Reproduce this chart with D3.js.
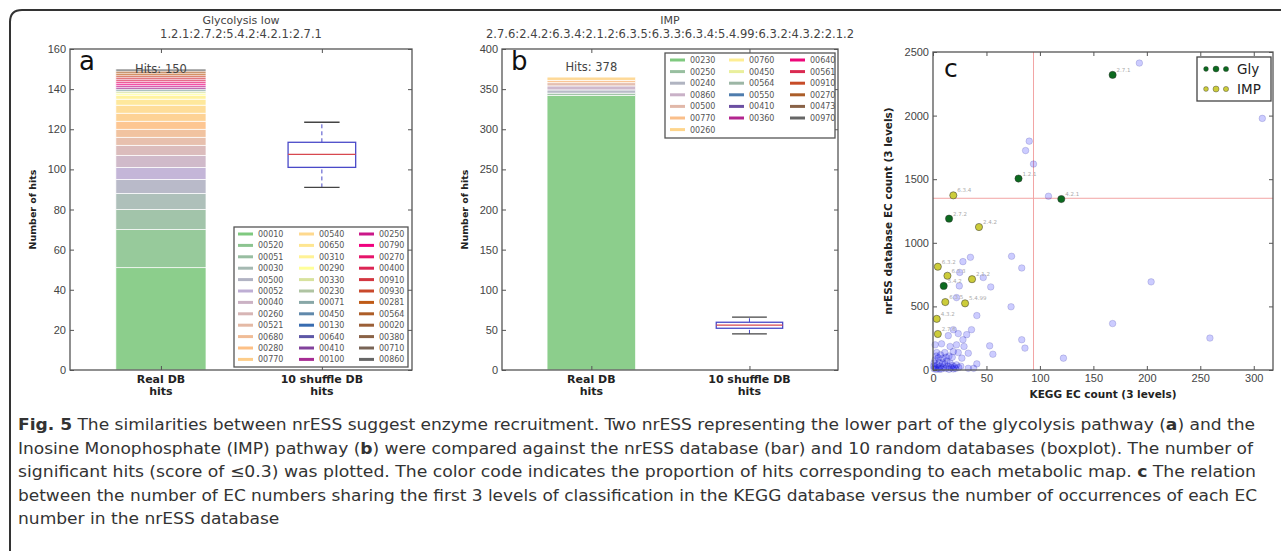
<!DOCTYPE html>
<html>
<head>
<meta charset="utf-8">
<script src="https://cdn.jsdelivr.net/npm/d3@7"></script>
<style>
body { margin: 0; background: #fff; }
svg { display: block; font-family: "DejaVu Sans", sans-serif; }
</style>
</head>
<body>
<div id="fig"></div>
<script>
// ---- panel a : Glycolysis low ----
const mapsA = ["00010","00520","00051","00030","00500","00052","00040","00260","00521","00680","00280","00770",
  "00540","00650","00310","00290","00330","00230","00071","00450","00130","00640","00410","00100",
  "00250","00790","00270","00400","00910","00930","00281","00564","00020","00380","00710","00860"];
const hitsA = [51,19,10,8,7,6,6,5,4,4,4,4, 4,3,2,1,1,0,1,0,0,0,0,1, 1,1,1,1,1,1,1,1,0,0,0,1];
const totalA = 150;
const boxA = [91, 101, 107.5, 113.5, 123.5]; // low whisker, q1, median, q3, high whisker

// ---- panel b : IMP ----
const mapsB = ["00230","00250","00240","00860","00500","00770","00260","00760","00450","00564",
  "00550","00410","00360","00640","00561","00910","00270","00473","00970"];
const hitsB = [342,3,4,5,4,3,4,0,0,0,0,0,0,0,0,0,0,0,0];
const totalB = 378;
const boxB = [45, 52, 56, 59.5, 66];

const xCats = ["Real DB", "10 shuffle DB"];

// ---- panel c : KEGG vs nrESS ----
const glyEC = ["2.7.1","1.2.1","4.2.1","2.7.2","5.4.2"];
const glyKegg = [168, 80, 120, 15, 10];
const glyNress = [2320, 1505, 1344, 1190, 661];
const impEC = ["6.3.4","2.4.2","6.3.2","6.3.3","2.1.2","6.3.5","5.4.99","4.3.2","2.7.6"];
const impKegg = [19, 43, 4.5, 13.5, 36.5, 11.5, 30, 3.5, 4.5];
const impNress = [1373, 1124, 812, 741, 714, 534, 524, 402, 283];
const otherKegg = [308,193,90,86.6,94,108,204,168,259,122,73.5,83,73,83,86,53,56,47,54,41,35,28,25,24.6,22,
  36,31.5,23.6,19,14.3,28,22,29,33,16,8,11,3.5,2,23.6,27,19,41,38,33,
  1,2,3,4,5,6,7,8,9,10,11,12,13,14,15,16,17,18,19,20,21,22,24,26,2,3,5,1,0.5,6,12,9,15,18,7];
const otherNress = [1978,2413,1799,1725,1619,1366,693,365,251,93,894,802,497,238,172,190,124,727,653,428,886,852,767,661,569,
  317,278,286,317,270,238,198,185,132,185,206,137,137,198,137,93,145,48,13,13,
  10,25,5,40,15,60,30,8,90,20,45,12,70,30,5,55,18,35,8,25,12,40,20,30,80,110,95,55,30,5,100,55,110,100,120];
const refKegg = 94;
const refNress = 1350;

const captionLines = [
  [["Fig. 5", true], [" The similarities between nrESS suggest enzyme recruitment. Two nrESS representing the lower part of the glycolysis pathway (", false], ["a", true], [") and the", false]],
  [["Inosine Monophosphate (IMP) pathway (", false], ["b", true], [") were compared against the nrESS database (bar) and 10 random databases (boxplot). The number of", false]],
  [["significant hits (score of \u22640.3) was plotted. The color code indicates the proportion of hits corresponding to each metabolic map. ", false], ["c", true], [" The relation", false]],
  [["between the number of EC numbers sharing the first 3 levels of classification in the KEGG database versus the number of occurrences of each EC", false]],
  [["number in the nrESS database", false]]
];
const captionWidths = [1237, 1235, 1238, 1239]; // last line keeps the same squeeze

const W = 1281, H = 551;
const svg = d3.select("#fig").append("svg").attr("width", W).attr("height", H);

// outer frame
svg.append("path")
  .attr("d", "M1281,10H22Q10,10 10,22V551")
  .attr("fill", "none").attr("stroke", "#333").attr("stroke-width", 2);

const accent = ["#7fc97f","#beaed4","#fdc086","#ffff99","#386cb0","#f0027f","#bf5b17","#666666"];
const accentMap = d3.piecewise(d3.interpolateRgb, accent);

const tickColor = "#444";

function spines(g, x0, y0, x1, y1) {
  g.append("rect")
    .attr("x", x0).attr("y", y0).attr("width", x1 - x0).attr("height", y1 - y0)
    .attr("fill", "none").attr("stroke", "#555").attr("stroke-width", 1.3);
}

function styleAxis(sel) {
  sel.select(".domain").remove();
  sel.selectAll(".tick line").attr("stroke", "#555");
  sel.selectAll(".tick text").attr("fill", tickColor).style("font-size", "11px");
}

// matplotlib style column filling: first columns take the extra rows
function legendPos(n, ncol) {
  const base = Math.floor(n / ncol), extra = n % ncol;
  const pos = [];
  for (let c = 0; c < ncol; c++) {
    const cnt = base + (c < extra ? 1 : 0);
    for (let r = 0; r < cnt; r++) pos.push([c, r]);
  }
  return pos;
}

function drawBarPanel(p) {
  const g = svg.append("g");
  const x = d3.scaleLinear().domain([0.435, 2.56]).range([p.left, p.right]);
  const y = d3.scaleLinear().domain([0, p.yMax]).range([p.bottom, p.top]);
  const n = p.maps.length;
  const color = i => accentMap(i / (n - 1));

  // stacked bar
  let cum = 0;
  const segs = p.hits.map((h, i) => {
    const s = { i, y0: cum, y1: cum + h };
    cum += h;
    return s;
  }).filter(s => s.y1 > s.y0);

  g.selectAll(".seg")
    .data(segs)
    .enter()
    .append("rect")
    .attr("class", "seg")
    .attr("x", x(0.72))
    .attr("width", x(1.28) - x(0.72))
    .attr("y", d => y(d.y1))
    .attr("height", d => y(d.y0) - y(d.y1))
    .attr("fill", d => color(d.i))
    .attr("fill-opacity", 0.9)
    .attr("stroke", "#fff")
    .attr("stroke-width", 0.7);

  g.append("text")
    .attr("x", x(1)).attr("y", y(p.total) + 4)
    .attr("text-anchor", "middle").attr("fill", "#444")
    .style("font-size", "11.5px")
    .text("Hits: " + p.total);

  // boxplot
  const b = p.box;
  const bx = x(2);
  const hw = x(2.21) - x(2), cw = x(2.11) - x(2);
  g.append("line").attr("x1", bx).attr("x2", bx).attr("y1", y(b[3])).attr("y2", y(b[4]))
    .attr("stroke", "#4a4ac8").attr("stroke-dasharray", "4,3");
  g.append("line").attr("x1", bx).attr("x2", bx).attr("y1", y(b[0])).attr("y2", y(b[1]))
    .attr("stroke", "#4a4ac8").attr("stroke-dasharray", "4,3");
  [b[0], b[4]].forEach(v => {
    g.append("line").attr("x1", bx - cw).attr("x2", bx + cw).attr("y1", y(v)).attr("y2", y(v))
      .attr("stroke", "#444").attr("stroke-width", 1.3);
  });
  g.append("rect")
    .attr("x", bx - hw).attr("width", 2 * hw)
    .attr("y", y(b[3])).attr("height", y(b[1]) - y(b[3]))
    .attr("fill", "none").attr("stroke", "#4a4ac8").attr("stroke-width", 1.3);
  g.append("line").attr("x1", bx - hw).attr("x2", bx + hw).attr("y1", y(b[2])).attr("y2", y(b[2]))
    .attr("stroke", "#d8484f").attr("stroke-width", 1.3);

  // axes
  const yt = d3.range(0, p.yMax + 1, p.yStep);
  g.append("g").attr("transform", `translate(${p.left},0)`)
    .call(d3.axisLeft(y).tickValues(yt).tickSizeInner(-4).tickSizeOuter(0).tickPadding(4))
    .call(styleAxis);
  g.append("g").attr("transform", `translate(${p.right},0)`)
    .call(d3.axisRight(y).tickValues(yt).tickSizeInner(-4).tickSizeOuter(0).tickFormat(""))
    .call(styleAxis);
  g.append("g").attr("transform", `translate(0,${p.bottom})`)
    .call(d3.axisBottom(x).tickValues([1, 2]).tickSizeInner(-4).tickSizeOuter(0).tickFormat(""))
    .call(styleAxis);
  g.append("g").attr("transform", `translate(0,${p.top})`)
    .call(d3.axisTop(x).tickValues([1, 2]).tickSizeInner(-4).tickSizeOuter(0).tickFormat(""))
    .call(styleAxis);
  spines(g, p.left, p.top, p.right, p.bottom);

  xCats.forEach((c, i) => {
    const t = g.append("text")
      .attr("x", x(i + 1)).attr("y", p.bottom + 13)
      .attr("text-anchor", "middle").attr("fill", "#222")
      .style("font-size", "11px").style("font-weight", "bold");
    t.append("tspan").attr("x", x(i + 1)).text(c);
    t.append("tspan").attr("x", x(i + 1)).attr("dy", 12).text("hits");
  });

  g.append("text")
    .attr("transform", `translate(${p.left - 34},${(p.top + p.bottom) / 2}) rotate(-90)`)
    .attr("text-anchor", "middle").attr("fill", "#222")
    .style("font-size", "9.5px").style("font-weight", "bold")
    .text("Number of hits");

  // titles
  const cx = (p.left + p.right) / 2;
  g.append("text").attr("x", cx).attr("y", p.top - 25).attr("text-anchor", "middle")
    .attr("fill", "#444").style("font-size", "11px").text(p.title);
  g.append("text").attr("x", cx).attr("y", p.top - 11).attr("text-anchor", "middle")
    .attr("fill", "#444").style("font-size", "11.5px").text(p.sub);

  g.append("text").attr("x", p.left + 9).attr("y", p.top + 21)
    .attr("fill", "#111").style("font-size", "26px").text(p.letter);

  // legend
  const L = p.legend;
  const pos = legendPos(n, 3);
  const lg = g.append("g");
  lg.append("rect")
    .attr("x", L.x0).attr("y", L.y0).attr("width", L.x1 - L.x0).attr("height", L.y1 - L.y0)
    .attr("fill", "#fff").attr("stroke", "#555").attr("stroke-width", 1.3);
  const items = lg.selectAll(".item")
    .data(p.maps)
    .enter()
    .append("g")
    .attr("class", "item")
    .attr("transform", (d, i) => `translate(${L.cols[pos[i][0]]},${L.row0 + pos[i][1] * L.dy})`);
  items.append("line")
    .attr("x1", 0).attr("x2", 15)
    .attr("stroke", (d, i) => color(i)).attr("stroke-width", 3);
  items.append("text")
    .attr("x", 20).attr("y", 3)
    .attr("fill", "#555").style("font-size", "8px")
    .text(d => d);
}

drawBarPanel({
  left: 70, right: 412, top: 49, bottom: 370, yMax: 160, yStep: 20,
  maps: mapsA, hits: hitsA, total: totalA, box: boxA,
  title: "Glycolysis low", sub: "1.2.1:2.7.2:5.4.2:4.2.1:2.7.1", letter: "a",
  legend: { x0: 234, y0: 227, x1: 408, y1: 367, row0: 234, dy: 11.4, cols: [238, 299, 359] }
});

drawBarPanel({
  left: 502, right: 838, top: 49, bottom: 370, yMax: 400, yStep: 50,
  maps: mapsB, hits: hitsB, total: totalB, box: boxB,
  title: "IMP", sub: "2.7.6:2.4.2:6.3.4:2.1.2:6.3.5:6.3.3:6.3.4:5.4.99:6.3.2:4.3.2:2.1.2", letter: "b",
  legend: { x0: 665, y0: 53, x1: 835, y1: 138, row0: 60, dy: 11.6, cols: [670, 729, 790] }
});

// ---- panel c ----
const gc = svg.append("g");
const xc = d3.scaleLinear().domain([0, 318]).range([933, 1273]);
const yc = d3.scaleLinear().domain([0, 2500]).range([370, 52]);

gc.append("line")
  .attr("x1", xc(refKegg)).attr("x2", xc(refKegg)).attr("y1", yc(0)).attr("y2", yc(2500))
  .attr("stroke", "#f2a5a5").attr("stroke-width", 1);
gc.append("line")
  .attr("x1", xc(0)).attr("x2", xc(318)).attr("y1", yc(refNress)).attr("y2", yc(refNress))
  .attr("stroke", "#f2a5a5").attr("stroke-width", 1);

gc.selectAll(".other")
  .data(otherKegg.map((k, i) => [k, otherNress[i]]))
  .enter()
  .append("circle")
  .attr("class", "other")
  .attr("cx", d => xc(d[0])).attr("cy", d => yc(d[1])).attr("r", 3.3)
  .attr("fill", "rgba(0,0,255,0.2)").attr("stroke", "rgba(0,0,120,0.15)");

function ecPoints(kegg, nress, ec, fill) {
  const pts = kegg.map((k, i) => ({ k, n: nress[i], ec: ec[i] }));
  gc.selectAll(null).data(pts).enter().append("circle")
    .attr("cx", d => xc(d.k)).attr("cy", d => yc(d.n)).attr("r", 3.6)
    .attr("fill", fill).attr("stroke", "#333").attr("stroke-width", 0.5);
  gc.selectAll(null).data(pts).enter().append("text")
    .attr("x", d => xc(d.k) + 4).attr("y", d => yc(d.n) - 3)
    .attr("fill", "#aaa").style("font-size", "5.5px")
    .text(d => d.ec);
}
ecPoints(impKegg, impNress, impEC, "#cccc3a");
ecPoints(glyKegg, glyNress, glyEC, "#0b6a1e");

const fmt = d3.format("d");
gc.append("g").attr("transform", "translate(933,0)")
  .call(d3.axisLeft(yc).tickValues(d3.range(0, 2501, 500)).tickFormat(fmt).tickSizeInner(-4).tickSizeOuter(0).tickPadding(4))
  .call(styleAxis);
gc.append("g").attr("transform", "translate(1273,0)")
  .call(d3.axisRight(yc).tickValues(d3.range(0, 2501, 500)).tickSizeInner(-4).tickSizeOuter(0).tickFormat(""))
  .call(styleAxis);
gc.append("g").attr("transform", "translate(0,370)")
  .call(d3.axisBottom(xc).tickValues(d3.range(0, 301, 50)).tickFormat(fmt).tickSizeInner(-4).tickSizeOuter(0).tickPadding(4))
  .call(styleAxis);
gc.append("g").attr("transform", "translate(0,52)")
  .call(d3.axisTop(xc).tickValues(d3.range(0, 301, 50)).tickSizeInner(-4).tickSizeOuter(0).tickFormat(""))
  .call(styleAxis);
spines(gc, 933, 52, 1273, 370);

gc.append("text")
  .attr("transform", "translate(892,211) rotate(-90)")
  .attr("text-anchor", "middle").attr("fill", "#222")
  .style("font-size", "10.5px").style("font-weight", "bold")
  .text("nrESS database EC count (3 levels)");
gc.append("text")
  .attr("x", 1103).attr("y", 398)
  .attr("text-anchor", "middle").attr("fill", "#222")
  .style("font-size", "10.5px").style("font-weight", "bold")
  .text("KEGG EC count (3 levels)");

gc.append("text").attr("x", 944).attr("y", 77)
  .attr("fill", "#111").style("font-size", "25px").text("c");

// legend c
const lc = gc.append("g");
lc.append("rect").attr("x", 1197).attr("y", 57).attr("width", 74).attr("height", 44)
  .attr("fill", "#fff").attr("stroke", "#444").attr("stroke-width", 1.3);
[["Gly", "#0b6a1e"], ["IMP", "#cccc3a"]].forEach((d, r) => {
  const yy = 69 + r * 20;
  [[1206, 2.4], [1216, 3], [1226, 2.6]].forEach(s => {
    lc.append("circle").attr("cx", s[0]).attr("cy", yy).attr("r", s[1])
      .attr("fill", d[1]).attr("stroke", "#333").attr("stroke-width", 0.4);
  });
  lc.append("text").attr("x", 1237).attr("y", yy + 5)
    .attr("fill", "#222").style("font-size", "13.5px").text(d[0]);
});

// ---- caption ----
const cap = svg.append("g")
  .style("font-family", "'Liberation Sans Narrow', 'DejaVu Sans Condensed', 'Open Sans', sans-serif")
  .style("font-stretch", "condensed")
  .style("font-size", "16px")
  .attr("fill", "#333");
const capTexts = captionLines.map((line, i) => {
  const t = cap.append("text")
    .attr("x", 18).attr("y", 430 + i * 23.5);
  line.forEach(seg => {
    t.append("tspan").style("font-weight", seg[1] ? "bold" : "normal").text(seg[0]);
  });
  return t;
});
// squeeze the lines to the measured widths; the short last line takes the mean squeeze
const ratios = captionWidths.map((w, i) => w / capTexts[i].node().getComputedTextLength());
const meanRatio = d3.mean(ratios);
capTexts.forEach((t, i) => {
  const w = i < captionWidths.length ? captionWidths[i] : t.node().getComputedTextLength() * meanRatio;
  t.attr("textLength", w).attr("lengthAdjust", "spacingAndGlyphs");
});
</script>
</body>
</html>
